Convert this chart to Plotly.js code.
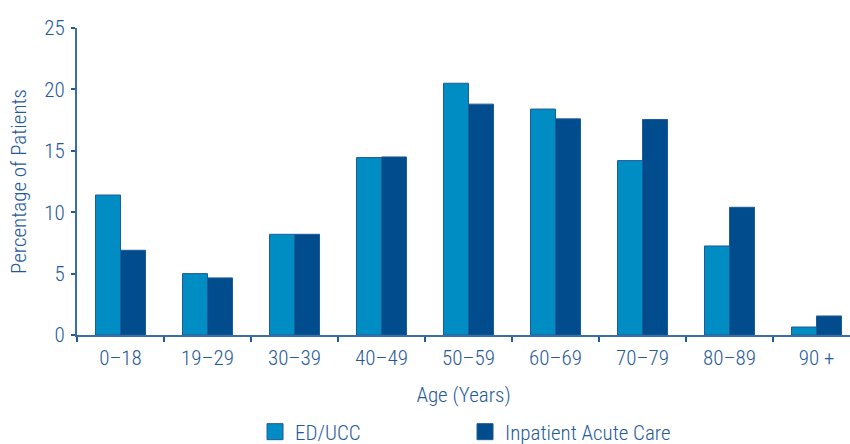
<!DOCTYPE html>
<html>
<head>
<meta charset="utf-8">
<script src="https://cdn.plot.ly/plotly-3.0.1.min.js"></script>
<style>
  html, body { margin: 0; padding: 0; background: #fff; }
  #chart { width: 850px; height: 444px; }
</style>
</head>
<body>
<div id="chart"></div>
<script>
const categories = ["0–18", "19–29", "30–39", "40–49", "50–59", "60–69", "70–79", "80–89", "90 +"];
const edUcc = [11.4, 5.0, 8.2, 14.45, 20.5, 18.4, 14.2, 7.25, 0.65];
const inpatient = [6.9, 4.65, 8.2, 14.5, 18.8, 17.6, 17.55, 10.4, 1.55];
const seriesNames = ["ED/UCC", "Inpatient Acute Care"];
const colors = ["#008DC4", "#004C8C"];
const textColor = "#1F5A99";
const fontFam = "'Roboto Condensed', Roboto, 'Liberation Sans', Arial, sans-serif";
const fnt = (s) => ({ size: s, color: textColor, family: fontFam, weight: 350 });

const traces = [
  { type: "bar", x: categories, y: edUcc, name: seriesNames[0], showlegend: false,
    marker: { color: colors[0], line: { color: "#1F5A99", width: 1 } } },
  { type: "bar", x: categories, y: inpatient, name: seriesNames[1], showlegend: false,
    marker: { color: colors[1], line: { color: "#1F5A99", width: 1 } } },
  { type: "scatter", mode: "markers", x: [null], y: [null], name: seriesNames[0],
    marker: { symbol: "square", size: 20, color: colors[0], line: { color: "#1F5A99", width: 1 } } },
  { type: "scatter", mode: "markers", x: [null], y: [null], name: seriesNames[1],
    marker: { symbol: "square", size: 20, color: colors[1], line: { color: "#1F5A99", width: 1 } } }
];

const layout = {
  width: 850, height: 444,
  margin: { l: 77, r: 0, t: 28, b: 109 },
  paper_bgcolor: "#fff", plot_bgcolor: "#fff",
  font: fnt(21),
  barmode: "group",
  bargap: 0.425, bargroupgap: 0,
  showlegend: true,
  legend: { orientation: "h", xref: "paper", x: 0.2303, xanchor: "left",
            yref: "container", y: 0.027, yanchor: "middle",
            font: fnt(21), entrywidth: 165, itemwidth: 30,
            bgcolor: "rgba(0,0,0,0)" },
  xaxis: {
    type: "category", range: [-0.5, 8.385],
    showline: true, linecolor: "#3A6EA5", linewidth: 2,
    ticks: "outside", tickson: "boundaries", ticklen: 5, tickcolor: "#1F5A99", tickwidth: 2,
    ticklabelstandoff: 3,
    showgrid: false, zeroline: false,
    tickfont: fnt(21),
    title: { text: "Age (Years)", font: fnt(21), standoff: 18 }
  },
  yaxis: {
    range: [0, 25], tickvals: [0, 5, 10, 15, 20, 25],
    showline: true, linecolor: "#3A6EA5", linewidth: 2,
    ticks: "outside", ticklen: 4, tickcolor: "#1F5A99", tickwidth: 2,
    ticklabelstandoff: 2,
    showgrid: false, zeroline: false,
    tickfont: fnt(21),
    title: { text: "Percentage of Patients", font: fnt(21), standoff: 12 }
  }
};

Plotly.newPlot("chart", traces, layout, { displayModeBar: false, staticPlot: true });
</script>
</body>
</html>
